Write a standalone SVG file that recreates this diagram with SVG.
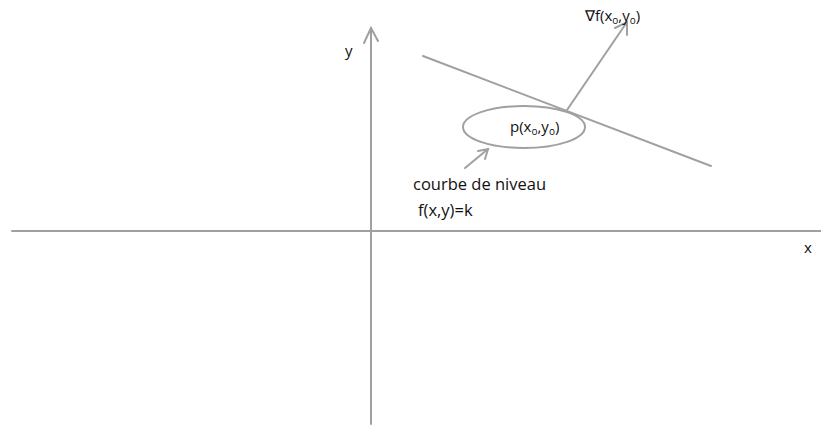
<svg xmlns="http://www.w3.org/2000/svg" width="821" height="425" viewBox="0 0 821 425">
<style>
.ln{stroke:#a0a0a0;stroke-width:2;fill:none;stroke-linecap:round}
.t{font-family:"Open Sans","Liberation Sans",sans-serif;font-size:15px;fill:#111}
.b{font-size:16.5px}
.s{font-size:10px}
</style>
<rect width="821" height="425" fill="#fff"/>
<g id="connectors">
<line class="ln" x1="12" y1="231" x2="821" y2="231"/>
<line class="ln" x1="371" y1="424" x2="371" y2="28"/>
<polyline class="ln" points="364,43 371,28 378,41"/>
<line class="ln" x1="423" y1="56" x2="711" y2="166"/>
<line class="ln" x1="567" y1="110" x2="627" y2="22"/>
<polyline class="ln" points="615,28 627,22 627,35"/>
<line class="ln" x1="465" y1="168" x2="488" y2="149"/>
<polyline class="ln" points="478,151 488,149 485,159"/>
</g>
<g id="level-curve">
<ellipse class="ln" cx="524" cy="127" rx="61" ry="21"/>
<text class="t" x="510" y="132">p(x<tspan class="s" dy="3">o</tspan><tspan dy="-3">,y</tspan><tspan class="s" dy="3">o</tspan><tspan dy="-3">)</tspan></text>
</g>
<g id="gradient">
<text class="t" x="585" y="21">∇f(x<tspan class="s" dy="3">o</tspan><tspan dy="-3">,y</tspan><tspan class="s" dy="3">o</tspan><tspan dy="-3">)</tspan></text>
</g>
<g id="label-curve">
<text class="t b" x="413" y="190">courbe de niveau</text>
<text class="t b" x="418" y="216">f(x,y)=k</text>
</g>
<g id="axis-labels">
<text class="t" x="345" y="56">y</text>
<text class="t" x="804" y="253">x</text>
</g>
</svg>
